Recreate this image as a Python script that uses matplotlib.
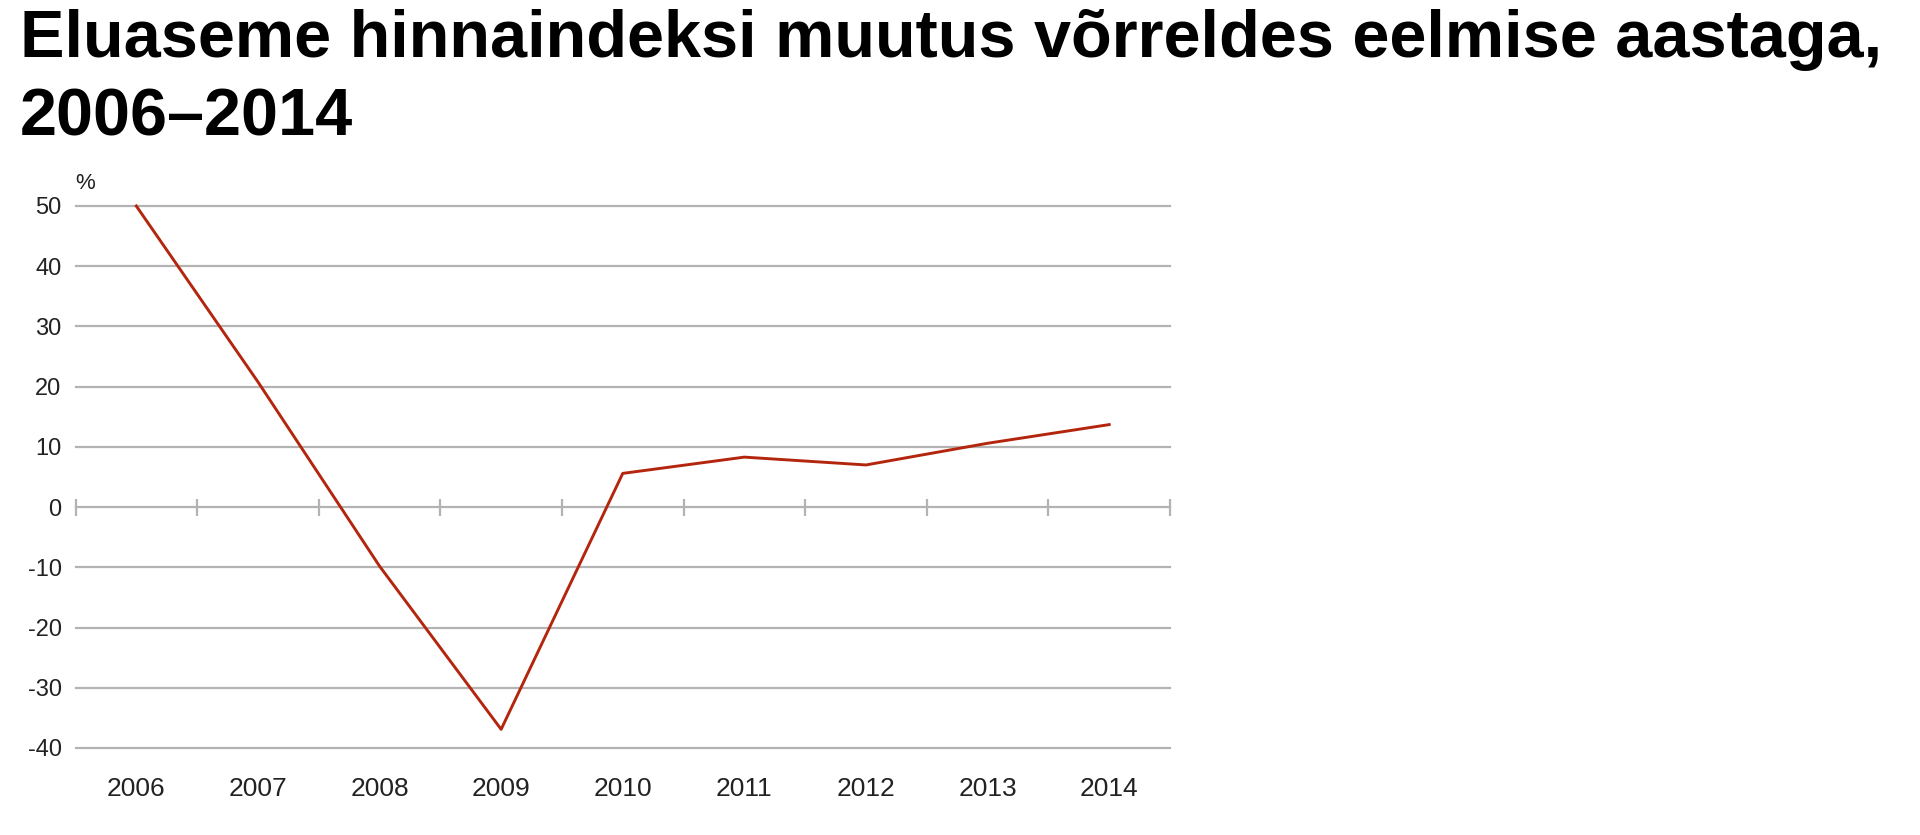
import matplotlib
matplotlib.use("Agg")
import matplotlib.pyplot as plt
import numpy as np

plt.rcParams['font.family'] = ['Liberation Sans', 'DejaVu Sans']

years = ['2006', '2007', '2008', '2009', '2010', '2011', '2012', '2013', '2014']
change = [50.0, 20.8, -9.8, -36.9, 5.6, 8.3, 7.0, 10.6, 13.7]
yticks = [50, 40, 30, 20, 10, 0, -10, -20, -30, -40]

W, H = 1920, 835
fig = plt.figure(figsize=(W / 100, H / 100), dpi=100)

# axes placed in pixels of the reference
left, right, top, bottom = 75.5, 1170, 206, 748
ax = fig.add_axes([left / W, (H - bottom) / H, (right - left) / W, (bottom - top) / H])

x = np.arange(len(years))
grid_col = '#b3b3b3'

for v in yticks:
    ax.axhline(v, color=grid_col, lw=1.6, zorder=1, clip_on=False)
# tick marks on the zero line at category borders
edges = np.arange(len(years) + 1) - 0.5
ax.vlines(edges, -1.4, 1.3, color=grid_col, lw=1.6, zorder=1, clip_on=False)

ax.plot(x, change, color='#b3260d', lw=2.1, zorder=3, clip_on=False)

ax.set_xlim(-0.5, len(years) - 0.5)
ax.set_ylim(-40, 50)
ax.set_yticks(yticks)
ax.set_yticklabels([str(v) for v in yticks], fontsize=17, color='#222222')
ax.set_xticks(x)
ax.set_xticklabels(years, fontsize=19, color='#222222')
ax.tick_params(axis='y', length=0, pad=10)
ax.tick_params(axis='x', length=0, pad=21)
for s in ax.spines.values():
    s.set_visible(False)

fig.text(75 / W, 1 - 173 / H, '%', fontsize=16, color='#222222', ha='left', va='top')

fig.text(20 / W, 1 - 57 / H, 'Eluaseme hinnaindeksi muutus võrreldes eelmise aastaga,',
         fontsize=48, fontweight='bold', ha='left', va='baseline')
fig.text(20 / W, 1 - 135 / H, '2006–2014',
         fontsize=48, fontweight='bold', ha='left', va='baseline')

fig.savefig('out.png', dpi=100, facecolor='white')
